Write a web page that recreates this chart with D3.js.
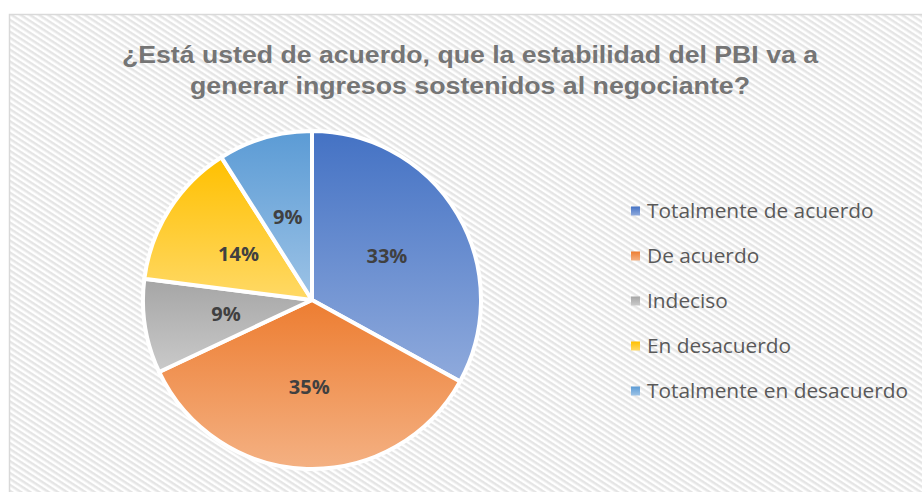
<!DOCTYPE html>
<html>
<head>
<meta charset="utf-8">
<script src="https://cdn.jsdelivr.net/npm/d3@7"></script>
<style>
  html, body { margin: 0; padding: 0; background: #ffffff; }
  svg { display: block; }
</style>
</head>
<body>
<svg id="chart" width="922" height="492"></svg>
<script>
// ---- data ----
const titleLines = ["¿Está usted de acuerdo, que la estabilidad del PBI va a", "generar ingresos sostenidos al negociante?"];
const categories = ["Totalmente de acuerdo", "De acuerdo", "Indeciso", "En desacuerdo", "Totalmente en desacuerdo"];
const values = [33, 35, 9, 14, 9];
const colorsTop = ["#4472c4", "#ed7d31", "#a5a5a5", "#ffc000", "#5b9bd5"];
const colorsBottom = ["#8faadc", "#f4b183", "#cacaca", "#ffd966", "#9dc3e6"];

const W = 922, H = 492;
const svg = d3.select("#chart");
const defs = svg.append("defs");

// background hatch pattern
const pat = defs.append("pattern")
  .attr("id", "hatch").attr("patternUnits", "userSpaceOnUse")
  .attr("width", 5).attr("height", 5)
  .attr("patternTransform", "rotate(33)");
pat.append("rect").attr("width", 5).attr("height", 5).attr("fill", "#ffffff");
pat.append("rect").attr("width", 5).attr("height", 2.5).attr("fill", "#e5e5e5");

svg.append("rect").attr("width", W).attr("height", H).attr("fill", "#ffffff");
svg.append("rect").attr("x", 9.5).attr("y", 14.5).attr("width", W).attr("height", H)
  .attr("fill", "url(#hatch)").attr("stroke", "#d9d9d9").attr("stroke-width", 1.5);

// gradients per slice
categories.forEach((c, i) => {
  const g = defs.append("linearGradient").attr("id", "grad" + i)
    .attr("x1", 0).attr("y1", 0).attr("x2", 0).attr("y2", 1);
  g.append("stop").attr("offset", "0%").attr("stop-color", colorsTop[i]);
  g.append("stop").attr("offset", "100%").attr("stop-color", colorsBottom[i]);
});

// title
const titleWidths = [696, 560];
const title = svg.append("text")
  .attr("text-anchor", "middle")
  .attr("font-family", "'Liberation Sans', Arial, sans-serif")
  .attr("font-weight", "bold").attr("font-size", 23)
  .attr("fill", "#757575");
titleLines.forEach((t, i) => {
  title.append("tspan").attr("x", 470).attr("y", 63 + i * 31)
    .attr("textLength", titleWidths[i]).attr("lengthAdjust", "spacingAndGlyphs")
    .text(t);
});

// pie
const cx = 312, cy = 300, R = 169;
const pie = d3.pie().sort(null).value(d => d.v);
const data = pie(categories.map((c, i) => ({ c, v: values[i], i })));
const arc = d3.arc().innerRadius(0).outerRadius(R);
const labelArc = d3.arc().innerRadius(R * 0.515).outerRadius(R * 0.515);

const gPie = svg.append("g").attr("transform", `translate(${cx},${cy})`);
gPie.selectAll("path").data(data).join("path")
  .attr("d", arc)
  .attr("fill", d => `url(#grad${d.data.i})`)
  .attr("stroke", "#ffffff").attr("stroke-width", 4).attr("stroke-linejoin", "round");

gPie.selectAll("text").data(data).join("text")
  .attr("transform", d => `translate(${labelArc.centroid(d)})`)
  .attr("text-anchor", "middle").attr("dy", "0.36em")
  .attr("font-family", "'Open Sans', 'Noto Sans', sans-serif")
  .attr("font-weight", "bold").attr("font-size", 20)
  .attr("fill", "#404040")
  .text(d => d.data.v + "%");

// legend
const legend = svg.append("g");
const rowY = d3.scalePoint().domain(categories).range([211, 391]);
const rows = legend.selectAll("g").data(categories).join("g")
  .attr("transform", d => `translate(0,${rowY(d)})`);
rows.append("rect").attr("x", 631).attr("y", -4.5).attr("width", 9).attr("height", 9)
  .attr("fill", (d, i) => `url(#grad${i})`);
const ltexts = rows.append("text").attr("x", 647).attr("dy", "0.36em")
  .attr("font-family", "'Open Sans', 'Noto Sans', sans-serif")
  .attr("font-size", 19.5).attr("fill", "#595959")
  .text(d => d);
// stretch legend text horizontally to match reference width of longest label
const lens = [];
ltexts.each(function () { lens.push(this.getComputedTextLength()); });
const factor = 261 / d3.max(lens);
ltexts.each(function (d, i) {
  d3.select(this).attr("textLength", lens[i] * factor).attr("lengthAdjust", "spacingAndGlyphs");
});
</script>
</body>
</html>
